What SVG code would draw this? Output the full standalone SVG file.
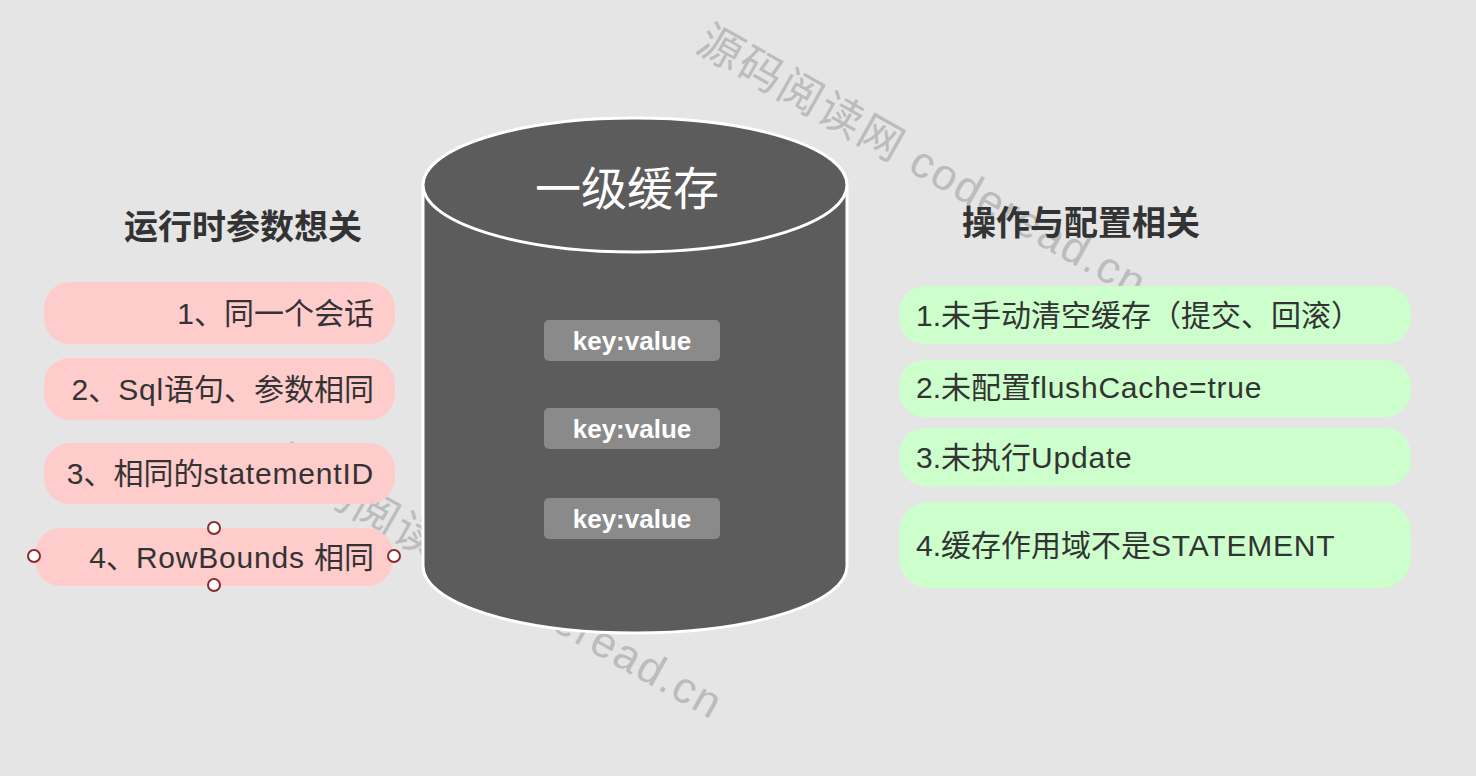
<svg xmlns="http://www.w3.org/2000/svg" width="1476" height="776" viewBox="0 0 1476 776">
  <style>
    .wm { font-family: "Liberation Sans", "Noto Sans CJK SC", sans-serif; font-size: 44px; fill: #bcbcbc; letter-spacing: 2px; }
    .title { font-family: "Liberation Sans", "Noto Sans CJK SC", sans-serif; font-size: 34px; font-weight: bold; fill: #333333; }
    .item { font-family: "Liberation Sans", "Noto Sans CJK SC", sans-serif; font-size: 30px; fill: #333333; }
    .lat { letter-spacing: 0.8px; }
    .pink { fill: #ffcccc; }
    .green { fill: #ccffcc; }
    .handle { fill: #ffffff; stroke: #8b2b2b; stroke-width: 2; }
    .kv { fill: #8a8a8a; }
    .kvt { font-family: "Liberation Sans", "Noto Sans CJK SC", sans-serif; font-size: 26px; font-weight: bold; fill: #ffffff; text-anchor: middle; }
    .cyl { fill: #5c5c5c; stroke: #ffffff; stroke-width: 3; }
    .cylt { font-family: "Liberation Sans", "Noto Sans CJK SC", sans-serif; font-size: 46px; fill: #ffffff; text-anchor: middle; }
  </style>
  <rect x="0" y="0" width="1476" height="776" fill="#e5e5e5"/>

  <g id="watermarks">
    <text class="wm" transform="translate(694,50) rotate(29.5)">源码阅读网 coderead.cn</text>
    <text class="wm" transform="translate(270,470) rotate(29.5)">源码阅读网 coderead.cn</text>
  </g>

  <g id="connectors"></g>

  <g id="title-left">
    <text class="title" x="124" y="239">运行时参数想关</text>
  </g>
  <g id="title-right">
    <text class="title" x="962" y="235">操作与配置相关</text>
  </g>

  <g id="left-1">
    <rect class="pink" x="44" y="282" width="351" height="62" rx="26" ry="26"/>
    <text class="item" x="374" y="324" text-anchor="end">1、同一个会话</text>
  </g>
  <g id="left-2">
    <rect class="pink" x="44" y="358" width="351" height="62" rx="26" ry="26"/>
    <text class="item" x="374" y="400" text-anchor="end">2、<tspan class="lat">Sql</tspan>语句、参数相同</text>
  </g>
  <g id="left-3">
    <rect class="pink" x="44" y="443" width="351" height="61" rx="26" ry="26"/>
    <text class="item" x="374" y="484" text-anchor="end">3、相同的<tspan class="lat">statementID</tspan></text>
  </g>
  <g id="left-4">
    <rect class="pink" x="35" y="528" width="358" height="58" rx="26" ry="26"/>
    <text class="item" x="374" y="568" text-anchor="end">4、<tspan class="lat">RowBounds </tspan>相同</text>
    <circle class="handle" cx="214" cy="528" r="6"/>
    <circle class="handle" cx="214" cy="585" r="6"/>
    <circle class="handle" cx="34" cy="556" r="6"/>
    <circle class="handle" cx="394" cy="556" r="6"/>
  </g>

  <g id="cache">
    <path class="cyl" d="M423,185 L423,566 A212,67 0 0 0 847,566 L847,185"/>
    <ellipse class="cyl" cx="635" cy="185" rx="212" ry="67"/>
    <text class="cylt" x="627" y="205">一级缓存</text>
  </g>
  <g id="kv-1">
    <rect class="kv" x="544" y="320" width="176" height="41" rx="5"/>
    <text class="kvt" x="632" y="350">key:value</text>
  </g>
  <g id="kv-2">
    <rect class="kv" x="544" y="408" width="176" height="41" rx="5"/>
    <text class="kvt" x="632" y="438">key:value</text>
  </g>
  <g id="kv-3">
    <rect class="kv" x="544" y="498" width="176" height="41" rx="5"/>
    <text class="kvt" x="632" y="528">key:value</text>
  </g>

  <g id="right-1">
    <rect class="green" x="899" y="286" width="512" height="58" rx="26" ry="26"/>
    <text class="item" x="916" y="326">1.未手动清空缓存（提交、回滚）</text>
  </g>
  <g id="right-2">
    <rect class="green" x="899" y="360" width="512" height="57" rx="26" ry="26"/>
    <text class="item" x="916" y="398">2.未配置<tspan class="lat">flushCache=true</tspan></text>
  </g>
  <g id="right-3">
    <rect class="green" x="899" y="428" width="512" height="58" rx="26" ry="26"/>
    <text class="item" x="916" y="468">3.未执行<tspan class="lat">Update</tspan></text>
  </g>
  <g id="right-4">
    <rect class="green" x="899" y="502" width="512" height="86" rx="30" ry="30"/>
    <text class="item" x="916" y="556">4.缓存作用域不是<tspan class="lat">STATEMENT</tspan></text>
  </g>
</svg>
